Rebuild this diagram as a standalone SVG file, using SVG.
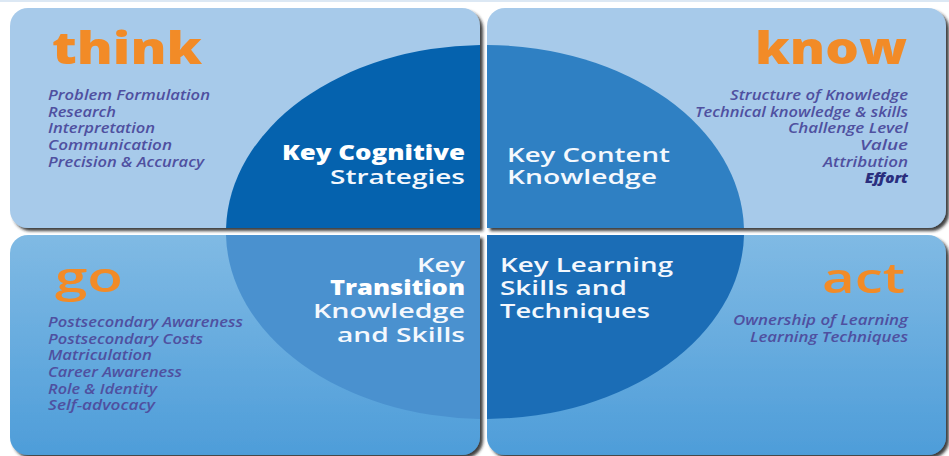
<svg xmlns="http://www.w3.org/2000/svg" width="949" height="456" viewBox="0 0 949 456">
  <defs>
    <linearGradient id="lowerPanel" x1="0" y1="0" x2="0" y2="1">
      <stop offset="0" stop-color="#80BAE4"/>
      <stop offset="1" stop-color="#4E9DD9"/>
    </linearGradient>
    <filter id="panelShadow" x="-5%" y="-5%" width="110%" height="115%">
      <feDropShadow dx="3" dy="3" stdDeviation="1.6" flood-color="#1E1E1E" flood-opacity="0.85"/>
    </filter>
  </defs>
  <style>
    .word { font-family: "Open Sans", "DejaVu Sans", sans-serif; font-weight: 800; fill: #F28B27; }
    .word2 { font-family: "Open Sans", "DejaVu Sans", sans-serif; font-weight: 600; fill: #F28B27; }
    .item { font-family: "Open Sans", "DejaVu Sans", sans-serif; font-style: italic; font-weight: 600; font-size: 13.5px; fill: #4F50A0; }
    .strong { font-weight: 800; fill: #2A2E7E; }
    .key { font-family: "Open Sans", "DejaVu Sans", sans-serif; font-weight: 600; font-size: 20.5px; fill: #F4F8FD; }
    .keyb { font-family: "Open Sans", "DejaVu Sans", sans-serif; font-weight: 800; font-size: 20.5px; fill: #FFFFFF; }
  </style>

  <rect width="949" height="456" fill="#FFFFFF"/>
  <rect width="949" height="2" fill="#DCE8F4"/>

  <!-- think: upper left -->
  <g id="think">
    <g filter="url(#panelShadow)">
      <path d="M28,8 H462 A18,18 0 0 1 480,26 V228 H28 A18,18 0 0 1 10,210 V26 A18,18 0 0 1 28,8 Z" fill="#A7CAEA"/>
    </g>
    <path d="M480,228 L480,45 A259,187 0 0 0 226.06,228 Z" fill="#0562AE"/>
    <text class="word" x="52" y="64" font-size="44" textLength="150" lengthAdjust="spacingAndGlyphs">think</text>
    <text class="item" x="48" y="100" textLength="162" lengthAdjust="spacingAndGlyphs">Problem Formulation</text>
    <text class="item" x="48" y="116.7" textLength="68" lengthAdjust="spacingAndGlyphs">Research</text>
    <text class="item" x="48" y="133.3" textLength="107" lengthAdjust="spacingAndGlyphs">Interpretation</text>
    <text class="item" x="48" y="150" textLength="124" lengthAdjust="spacingAndGlyphs">Communication</text>
    <text class="item" x="48" y="166.7" textLength="156" lengthAdjust="spacingAndGlyphs">Precision &amp; Accuracy</text>
    <text class="keyb" x="282" y="160" textLength="183" lengthAdjust="spacingAndGlyphs">Key Cognitive</text>
    <text class="key" x="330" y="184" textLength="135" lengthAdjust="spacingAndGlyphs">Strategies</text>
  </g>

  <!-- know: upper right -->
  <g id="know">
    <g filter="url(#panelShadow)">
      <path d="M505,8 H928 A18,18 0 0 1 946,26 V210 A18,18 0 0 1 928,228 H487 V26 A18,18 0 0 1 505,8 Z" fill="#A7CAEA"/>
    </g>
    <path d="M487,228 L487,45 A259,187 0 0 1 743.94,228 Z" fill="#2F80C3"/>
    <text class="word" x="755" y="64" font-size="44" textLength="152" lengthAdjust="spacingAndGlyphs">know</text>
    <text class="item" x="730" y="100" textLength="178" lengthAdjust="spacingAndGlyphs">Structure of Knowledge</text>
    <text class="item" x="695" y="116.7" textLength="213" lengthAdjust="spacingAndGlyphs">Technical knowledge &amp; skills</text>
    <text class="item" x="788" y="133.3" textLength="120" lengthAdjust="spacingAndGlyphs">Challenge Level</text>
    <text class="item" x="860" y="150" textLength="48" lengthAdjust="spacingAndGlyphs">Value</text>
    <text class="item" x="823" y="166.7" textLength="85" lengthAdjust="spacingAndGlyphs">Attribution</text>
    <text class="item strong" x="865" y="183" textLength="43" lengthAdjust="spacingAndGlyphs">Effort</text>
    <text class="key" x="507" y="162" textLength="163" lengthAdjust="spacingAndGlyphs">Key Content</text>
    <text class="key" x="507" y="184" textLength="150" lengthAdjust="spacingAndGlyphs">Knowledge</text>
  </g>

  <!-- go: lower left -->
  <g id="go">
    <g filter="url(#panelShadow)">
      <path d="M28,235 H480 V437 A18,18 0 0 1 462,455 H28 A18,18 0 0 1 10,437 V253 A18,18 0 0 1 28,235 Z" fill="url(#lowerPanel)"/>
    </g>
    <path d="M480,235 L226.03,235 A259,187 0 0 0 480,418.97 Z" fill="#4A91CF"/>
    <text class="word2" x="55" y="292" font-size="42" textLength="68" lengthAdjust="spacingAndGlyphs">go</text>
    <text class="item" x="48" y="327" textLength="195" lengthAdjust="spacingAndGlyphs">Postsecondary Awareness</text>
    <text class="item" x="48" y="343.7" textLength="155" lengthAdjust="spacingAndGlyphs">Postsecondary Costs</text>
    <text class="item" x="48" y="360.3" textLength="104" lengthAdjust="spacingAndGlyphs">Matriculation</text>
    <text class="item" x="48" y="377" textLength="134" lengthAdjust="spacingAndGlyphs">Career Awareness</text>
    <text class="item" x="48" y="393.7" textLength="109" lengthAdjust="spacingAndGlyphs">Role &amp; Identity</text>
    <text class="item" x="48" y="410.3" textLength="107" lengthAdjust="spacingAndGlyphs">Self-advocacy</text>
    <text class="key" x="417" y="272" textLength="48" lengthAdjust="spacingAndGlyphs">Key</text>
    <text class="keyb" x="330" y="295" textLength="135" lengthAdjust="spacingAndGlyphs">Transition</text>
    <text class="key" x="313" y="318" textLength="152" lengthAdjust="spacingAndGlyphs">Knowledge</text>
    <text class="key" x="337" y="342" textLength="128" lengthAdjust="spacingAndGlyphs">and Skills</text>
  </g>

  <!-- act: lower right -->
  <g id="act">
    <g filter="url(#panelShadow)">
      <path d="M487,235 H928 A18,18 0 0 1 946,253 V437 A18,18 0 0 1 928,455 H505 A18,18 0 0 1 487,437 Z" fill="url(#lowerPanel)"/>
    </g>
    <path d="M487,235 L743.97,235 A259,187 0 0 1 487,418.99 Z" fill="#1B6DB6"/>
    <text class="word2" x="822" y="293" font-size="42" textLength="83" lengthAdjust="spacingAndGlyphs">act</text>
    <text class="item" x="733" y="325" textLength="175" lengthAdjust="spacingAndGlyphs">Ownership of Learning</text>
    <text class="item" x="750" y="341.7" textLength="158" lengthAdjust="spacingAndGlyphs">Learning Techniques</text>
    <text class="key" x="500" y="272" textLength="173" lengthAdjust="spacingAndGlyphs">Key Learning</text>
    <text class="key" x="500" y="295" textLength="127" lengthAdjust="spacingAndGlyphs">Skills and</text>
    <text class="key" x="500" y="318" textLength="150" lengthAdjust="spacingAndGlyphs">Techniques</text>
  </g>

  <!-- no connectors in this layout -->
  <g id="connectors"/>
</svg>
